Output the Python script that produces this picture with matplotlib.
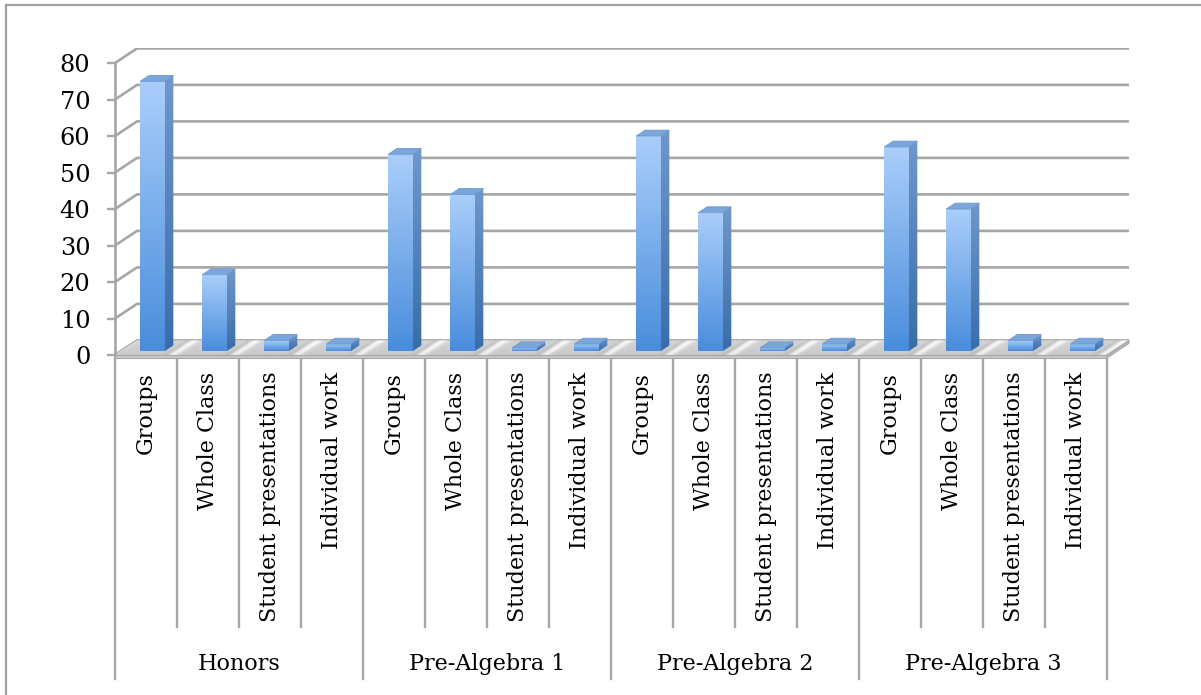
import matplotlib
matplotlib.use("Agg")
import matplotlib.pyplot as plt
import numpy as np
from matplotlib.colors import to_rgb
from matplotlib.lines import Line2D
from matplotlib.patches import Polygon

plt.rcParams["font.family"] = ["DejaVu Serif"]

# data (percent of class time)
groups = ["Honors", "Pre-Algebra 1", "Pre-Algebra 2", "Pre-Algebra 3"]
activities = ["Groups", "Whole Class", "Student presentations", "Individual work"]
honors = [74, 21, 3, 2]
pre_alg_1 = [54, 43, 1, 2]
pre_alg_2 = [59, 38, 1, 2]
pre_alg_3 = [56, 39, 3, 2]
y_ticks = [0, 10, 20, 30, 40, 50, 60, 70, 80]

values = honors + pre_alg_1 + pre_alg_2 + pre_alg_3
labels = activities * len(groups)
n = len(values)

# fake 3d depth, in data units
DX, DY = 0.355, 4.0
GRID = "#a6a6a6"
FS = 16


def gradient_fill(ax, verts, c_top, c_bot, z):
    """Fill polygon with a vertical gradient (clipped imshow)."""
    verts = np.asarray(verts)
    patch = Polygon(verts, closed=True, facecolor="none", edgecolor="none", zorder=z)
    ax.add_patch(patch)
    t = np.linspace(0, 1, 64)[:, None]
    arr = (1 - t) * np.array(to_rgb(c_bot)) + t * np.array(to_rgb(c_top))
    arr = arr[:, None, :]
    im = ax.imshow(arr, extent=[verts[:, 0].min(), verts[:, 0].max(),
                                verts[:, 1].min(), verts[:, 1].max()],
                   origin="lower", aspect="auto", interpolation="bilinear", zorder=z)
    im.set_clip_path(patch)


fig = plt.figure(figsize=(12.01, 6.95), dpi=100)
ax = fig.add_axes([115 / 1201, 1 - 355 / 695, (n + DX) * 62 / 1201, 84 * 3.65 / 695])

# side wall edges + back wall gridlines
for v in y_ticks:
    ax.plot([0, DX, n + DX], [v, v + DY, v + DY], color=GRID, lw=1.9, zorder=1,
            solid_capstyle="butt")

# floor with silver stripes
floor = Polygon([(0, 0), (n, 0), (n + DX, DY), (DX, DY)], closed=True,
                facecolor="none", edgecolor="#b4b4b4", lw=1.0, zorder=2)
ax.add_patch(floor)
xs = np.linspace(0, n + DX, 1600)
ys = np.linspace(0, DY, 20)
X, Y = np.meshgrid(xs, ys)
phase = (X - Y / DY * DX) % 1.0
d = np.minimum(np.abs(phase - 0.93), 1 - np.abs(phase - 0.93))
tex = 0.83 + 0.15 * np.exp(-(d / 0.08) ** 2) - 0.07 * np.exp(-((phase - 0.82) / 0.05) ** 2)
tex = tex - 0.04 * (1 - Y / DY)
im = ax.imshow(np.clip(tex, 0, 1), extent=[0, n + DX, 0, DY], origin="lower",
               cmap="gray", vmin=0, vmax=1, aspect="auto", zorder=2)
im.set_clip_path(floor)
# floor slab front + right side
ax.add_patch(Polygon([(0, 0), (n, 0), (n, -0.8), (0, -0.8)], closed=True,
                     facecolor="#c8c8c8", edgecolor="#a8a8a8", lw=0.8,
                     zorder=2, clip_on=False))
ax.add_patch(Polygon([(n, 0), (n + DX, DY), (n + DX, DY - 0.8), (n, -0.8)], closed=True,
                     facecolor="#b4b4b4", edgecolor="#a8a8a8", lw=0.8,
                     zorder=2, clip_on=False))

# bars
off, w, f0, f1 = 0.32, 0.39, 0.25, 0.65
for i, v in enumerate(values):
    x0 = i + off + f0 * DX
    y0 = f0 * DY
    ddx, ddy = (f1 - f0) * DX, (f1 - f0) * DY
    front = [(x0, y0), (x0 + w, y0), (x0 + w, y0 + v), (x0, y0 + v)]
    side = [(x0 + w, y0), (x0 + w + ddx, y0 + ddy), (x0 + w + ddx, y0 + v + ddy),
            (x0 + w, y0 + v)]
    top = [(x0, y0 + v), (x0 + w, y0 + v), (x0 + w + ddx, y0 + v + ddy),
           (x0 + ddx, y0 + v + ddy)]
    gradient_fill(ax, front, "#aacefa", "#4a8ddc", 3)
    gradient_fill(ax, side, "#7097cb", "#3a6da8", 3)
    ax.add_patch(Polygon(top, closed=True, facecolor="#7ba6db", edgecolor="#6d98cf",
                         lw=0.6, zorder=3))

# axes styling
for s in ["top", "right", "bottom"]:
    ax.spines[s].set_visible(False)
ax.spines["left"].set_bounds(0, 80)
ax.spines["left"].set_color(GRID)
ax.spines["left"].set_linewidth(1.9)
ax.spines["left"].set_zorder(4)
ax.set_yticks(y_ticks)
ax.tick_params(axis="y", length=5.8, width=1.7, color=GRID, pad=12, labelsize=17.3)
ax.set_xticks(np.arange(n) + 0.5, labels, rotation=90)
ax.tick_params(axis="x", length=0, pad=12, labelsize=FS)

# category separators below the axis
for b in range(n + 1):
    bottom = -88.8 if b % 4 == 0 else -74.5
    ax.plot([b, b], [-0.8, bottom], color=GRID, lw=1.7, clip_on=False, zorder=1)

for g, name in enumerate(groups):
    ax.text(g * 4 + 2, -86.3, name, ha="center", va="baseline", fontsize=FS)

ax.set_xlim(0, n + DX)
ax.set_ylim(0, 84)

# outer chart border (left + top visible)
fig.add_artist(Line2D([6 / 1201, 6 / 1201], [0, 1 - 5 / 695], color="#a0a0a0", lw=1.6))
fig.add_artist(Line2D([6 / 1201, 1], [1 - 5 / 695, 1 - 5 / 695], color="#a0a0a0", lw=1.6))

fig.savefig("out.png", dpi=100)
